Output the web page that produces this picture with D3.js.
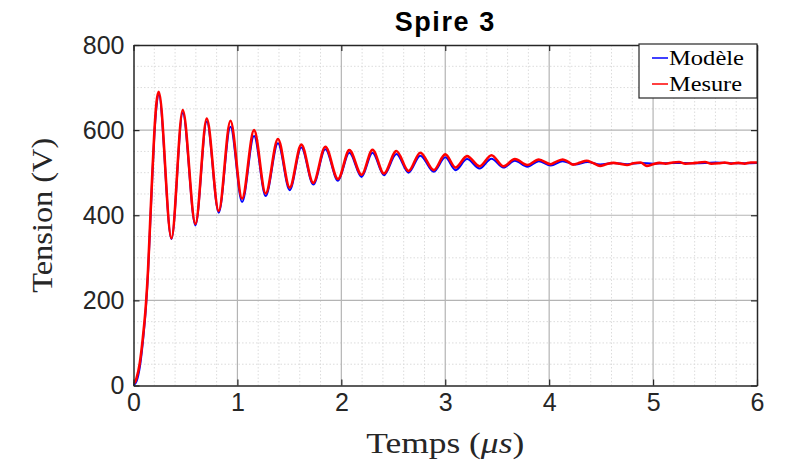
<!DOCTYPE html>
<html>
<head>
<meta charset="utf-8">
<script src="https://cdn.jsdelivr.net/npm/d3@7"></script>
<style>
  html, body { margin: 0; padding: 0; background: #fff; }
  svg { display: block; }
</style>
</head>
<body>
<svg id="chart" width="789" height="465"></svg>
<script>
// Axis ticks
const xTicks = [0, 1, 2, 3, 4, 5, 6];
const yTicks = [0, 200, 400, 600, 800];
const xMinor = d3.range(0, 6.0001, 0.2);
const yMinor = d3.range(0, 800.1, 50);

// Modèle (simulated voltage), time in µs / voltage in V
const tModele = [0, 0.03, 0.06, 0.09, 0.12, 0.14, 0.16, 0.18, 0.20, 0.22, 0.243,
  0.365, 0.474, 0.596, 0.705, 0.82, 0.933, 1.045, 1.16, 1.272, 1.39, 1.503, 1.615,
  1.73, 1.846, 1.968, 2.077, 2.195, 2.30, 2.41, 2.53, 2.647, 2.76, 2.89, 3.0, 3.10,
  3.21, 3.33, 3.445, 3.56, 3.67, 3.79, 3.90, 4.015, 4.13, 4.25, 4.37, 4.49, 4.62,
  4.75, 4.88, 5.0, 5.2, 5.4, 5.6, 5.8, 6.0];
const vModele = [0, 10, 42, 102, 185, 265, 375, 485, 585, 652, 683,
  344, 640, 376, 620, 406, 608, 431, 586, 445, 569, 459, 559,
  472, 555, 481, 547, 490, 547, 494, 544, 500, 540, 502, 536, 506,
  532, 510, 533, 512, 528, 514, 527, 517, 527, 519, 525, 519, 523,
  520, 523, 521, 523, 522, 524, 522, 523];

// Mesure (measured voltage)
const tMesure = [0, 0.015, 0.03, 0.06, 0.09, 0.12, 0.14, 0.16, 0.18, 0.20, 0.22, 0.243,
  0.365, 0.474, 0.596, 0.705, 0.82, 0.933, 1.045, 1.16, 1.272, 1.39, 1.503, 1.615,
  1.73, 1.846, 1.968, 2.077, 2.195, 2.30, 2.41, 2.53, 2.647, 2.76, 2.89, 3.0, 3.10,
  3.21, 3.33, 3.445, 3.56, 3.67, 3.79, 3.90, 4.015, 4.07, 4.13, 4.18, 4.23, 4.30,
  4.36, 4.42, 4.49, 4.55, 4.62, 4.68, 4.75, 4.81, 4.88, 4.94, 5.00, 5.06, 5.12,
  5.19, 5.25, 5.31, 5.38, 5.44, 5.50, 5.56, 5.63, 5.69, 5.75, 5.82, 5.88, 5.94, 6.0];
const vMesure = [5, 8, 18, 52, 112, 192, 272, 382, 492, 592, 662, 690,
  346, 647, 380, 627, 410, 622, 439, 600, 451, 579, 465, 566,
  476, 561, 485, 553, 495, 554, 498, 551, 504, 547, 506, 543, 512,
  539, 515, 541, 515, 532, 518, 531, 520, 526, 531, 526, 519, 524,
  528, 523, 516, 520, 523, 521, 518, 522, 524, 516, 520, 523, 521,
  524, 525, 521, 522, 524, 525, 521, 522, 524, 521, 523, 521, 524, 524];

const legendNames = ["Modèle", "Mesure"];
const colors = ["#0000ff", "#ff0000"];

const svg = d3.select("#chart");
const W = 789, H = 465;
const pLeft = 133.5, pRight = 757, pTop = 45, pBottom = 385.5;

const x = d3.scaleLinear().domain([0, 6]).range([pLeft, pRight]);
const y = d3.scaleLinear().domain([0, 800]).range([pBottom, pTop]);

svg.append("rect").attr("width", W).attr("height", H).attr("fill", "#fff");

// minor grid
const grid = svg.append("g");
grid.append("g").selectAll("line").data(xMinor.filter(v => Math.abs(v - Math.round(v)) > 1e-6))
  .join("line").attr("x1", d => x(d)).attr("x2", d => x(d))
  .attr("y1", pTop).attr("y2", pBottom)
  .attr("stroke", "#dcdcdc").attr("stroke-width", 1).attr("stroke-dasharray", "1.5,2");
grid.append("g").selectAll("line").data(yMinor.filter(v => v % 200 !== 0))
  .join("line").attr("y1", d => y(d)).attr("y2", d => y(d))
  .attr("x1", pLeft).attr("x2", pRight)
  .attr("stroke", "#dcdcdc").attr("stroke-width", 1).attr("stroke-dasharray", "1.5,2");

// major grid
grid.append("g").selectAll("line").data(xTicks.slice(1, -1))
  .join("line").attr("x1", d => x(d)).attr("x2", d => x(d))
  .attr("y1", pTop).attr("y2", pBottom)
  .attr("stroke", "#b4b4b4").attr("stroke-width", 1.2);
grid.append("g").selectAll("line").data(yTicks.slice(1, -1))
  .join("line").attr("y1", d => y(d)).attr("y2", d => y(d))
  .attr("x1", pLeft).attr("x2", pRight)
  .attr("stroke", "#b4b4b4").attr("stroke-width", 1.2);

// curves
const line = d3.line().curve(d3.curveMonotoneX);
const plot = svg.append("g");
plot.append("path")
  .attr("d", line(tModele.map((t, i) => [x(t), y(vModele[i])])))
  .attr("fill", "none").attr("stroke", colors[0]).attr("stroke-width", 2)
  .attr("stroke-linejoin", "round");
plot.append("path")
  .attr("d", line(tMesure.map((t, i) => [x(t), y(vMesure[i])])))
  .attr("fill", "none").attr("stroke", colors[1]).attr("stroke-width", 2.6)
  .attr("stroke-linejoin", "round");

// axes (ticks pointing inward)
const axisColor = "#262626";
const fontSans = "'Liberation Sans', Arial, Helvetica, sans-serif";
const gx = svg.append("g").attr("transform", `translate(0,${pBottom})`)
  .call(d3.axisBottom(x).tickValues(xTicks).tickFormat(d3.format("d"))
    .tickSizeInner(-6).tickSizeOuter(0).tickPadding(8));
const gy = svg.append("g").attr("transform", `translate(${pLeft},0)`)
  .call(d3.axisLeft(y).tickValues(yTicks).tickFormat(d3.format("d"))
    .tickSizeInner(-6).tickSizeOuter(0).tickPadding(9));
const gt = svg.append("g").attr("transform", `translate(0,${pTop})`)
  .call(d3.axisTop(x).tickValues(xTicks).tickFormat("").tickSizeInner(-6).tickSizeOuter(0));
const gr = svg.append("g").attr("transform", `translate(${pRight},0)`)
  .call(d3.axisRight(y).tickValues(yTicks).tickFormat("").tickSizeInner(-6).tickSizeOuter(0));
[gx, gy, gt, gr].forEach(g => {
  g.select(".domain").attr("stroke", axisColor).attr("stroke-width", 1.5);
  g.selectAll(".tick line").attr("stroke", axisColor).attr("stroke-width", 1.2);
  g.selectAll(".tick text").attr("fill", "#262626")
    .style("font-family", fontSans).style("font-size", "25px");
});

// title
svg.append("text").attr("x", (pLeft + pRight) / 2).attr("y", 31)
  .attr("text-anchor", "middle")
  .style("font-family", fontSans).style("font-weight", "bold")
  .style("font-size", "27px").style("letter-spacing", "1.6px")
  .attr("fill", "#000").text("Spire 3");

// axis titles (serif, stretched to the width of the typeset labels)
const fontSerif = "'Liberation Serif', 'Times New Roman', serif";
const xt = svg.append("text").attr("x", (pLeft + pRight) / 2).attr("y", 453)
  .attr("text-anchor", "middle")
  .attr("textLength", 158).attr("lengthAdjust", "spacingAndGlyphs")
  .style("font-family", fontSerif).style("font-size", "30px").attr("fill", "#262626");
xt.append("tspan").text("Temps (");
xt.append("tspan").style("font-style", "italic").text("μs");
xt.append("tspan").text(")");

svg.append("text")
  .attr("transform", `translate(52,${(pTop + pBottom) / 2}) rotate(-90)`)
  .attr("text-anchor", "middle")
  .attr("textLength", 155).attr("lengthAdjust", "spacingAndGlyphs")
  .style("font-family", fontSerif).style("font-size", "30px").attr("fill", "#262626")
  .text("Tension (V)");

// legend
const lg = svg.append("g");
lg.append("rect").attr("x", 639).attr("y", 44).attr("width", 118).attr("height", 54)
  .attr("fill", "#fff").attr("stroke", axisColor).attr("stroke-width", 1.2);
const legendWidths = [75, 73];
legendNames.forEach((name, i) => {
  const cy = 58 + i * 26;
  lg.append("line").attr("x1", 652).attr("x2", 668).attr("y1", cy).attr("y2", cy)
    .attr("stroke", colors[i]).attr("stroke-width", 1.5);
  lg.append("text").attr("x", 669).attr("y", cy + 7)
    .attr("textLength", legendWidths[i]).attr("lengthAdjust", "spacingAndGlyphs")
    .style("font-family", fontSerif).style("font-size", "21px").attr("fill", "#000")
    .text(name);
});
</script>
</body>
</html>
